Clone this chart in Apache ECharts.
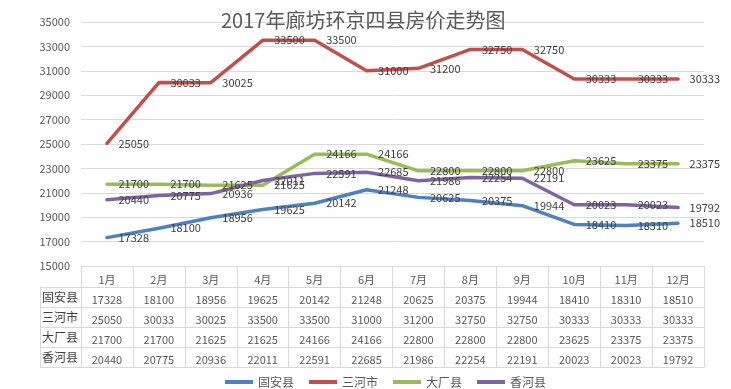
<!DOCTYPE html>
<html><head><meta charset="utf-8">
<script src="https://cdn.jsdelivr.net/npm/echarts@6/dist/echarts.min.js"></script>
<style>html,body{margin:0;padding:0;background:#fff}#c{width:731px;height:389px}</style>
</head><body><div id="c"></div>
<script>
const months = ['1月','2月','3月','4月','5月','6月','7月','8月','9月','10月','11月','12月'];
const seriesNames = ['固安县','三河市','大厂县','香河县'];
const guan = [17328,18100,18956,19625,20142,21248,20625,20375,19944,18410,18310,18510];
const sanhe = [25050,30033,30025,33500,33500,31000,31200,32750,32750,30333,30333,30333];
const dachang = [21700,21700,21625,21625,24166,24166,22800,22800,22800,23625,23375,23375];
const xianghe = [20440,20775,20936,22011,22591,22685,21986,22254,22191,20023,20023,19792];
const yTicks = {min:15000, max:35000, step:2000};
const colors = ['#4F81BD','#C0504D','#9BBB59','#8064A2'];
const allData = [guan, sanhe, dachang, xianghe];
const font = 'Noto Sans CJK SC';

const chart = echarts.init(document.getElementById('c'));
chart.setOption({
  animation:false,
  color: colors,
  textStyle:{fontFamily:font},
  title:{text:'2017年廊坊环京四县房价走势图', left:216, top:5,
    textStyle:{fontSize:20, fontWeight:'normal', color:'#595959', fontFamily:font}},
  legend:{data:seriesNames, left:220, top:371, icon:'rect', itemWidth:28, itemHeight:4, itemGap:15,
    textStyle:{fontSize:12, color:'#595959'}},
  grid:[
    {left:81, right:27, top:22, height:244},
    {left:81, right:27, top:287, height:80}
  ],
  xAxis:[
    {type:'category', gridIndex:0, data:months, boundaryGap:true,
     axisLine:{lineStyle:{color:'#d9d9d9'}},
     axisTick:{show:true, interval:0, length:101, lineStyle:{color:'#d9d9d9'}},
     axisLabel:{interval:0, margin:4, fontSize:11, color:'#595959', lineHeight:20,
       formatter:(v, i)=> [v].concat(allData.map(d=>d[i])).join('\n')}},
    {type:'category', gridIndex:1, data:months, boundaryGap:true,
     axisLine:{show:true, lineStyle:{color:'#d9d9d9'}}, axisTick:{show:false}, axisLabel:{show:false}, splitLine:{show:false}}
  ],
  yAxis:[
    {type:'value', gridIndex:0, min:yTicks.min, max:yTicks.max, interval:yTicks.step,
     axisLine:{show:false}, axisTick:{show:false},
     splitLine:{lineStyle:{color:'#d9d9d9'}},
     axisLabel:{margin:11, fontSize:11, color:'#595959', formatter:v=>String(v)}},
    {type:'category', gridIndex:1, data:seriesNames, inverse:true, boundaryGap:true,
     axisLine:{show:false},
     axisTick:{show:true, interval:0, length:41, lineStyle:{color:'#d9d9d9'}},
     splitLine:{show:true, interval:0, lineStyle:{color:'#d9d9d9'}},
     axisLabel:{interval:0, margin:21, align:'center', fontSize:12, color:'#404040'}},
    {type:'category', gridIndex:1, data:seriesNames, inverse:true, offset:41, position:'left',
     axisLine:{show:true, lineStyle:{color:'#d9d9d9'}}, axisTick:{show:false}, axisLabel:{show:false}, splitLine:{show:false}}
  ],
  series: seriesNames.map((n, k)=>({
    name:n, type:'line', xAxisIndex:0, yAxisIndex:0, data:allData[k],
    symbol:'circle', symbolSize:1, showSymbol:true,
    lineStyle:{width:3.5, color:colors[k], join:'round', cap:'round'},
    itemStyle:{color:colors[k]},
    label:{show:true, position:'right', distance:11, fontSize:11, color:'#404040'},
    emphasis:{disabled:true}
  }))
});
</script></body></html>
